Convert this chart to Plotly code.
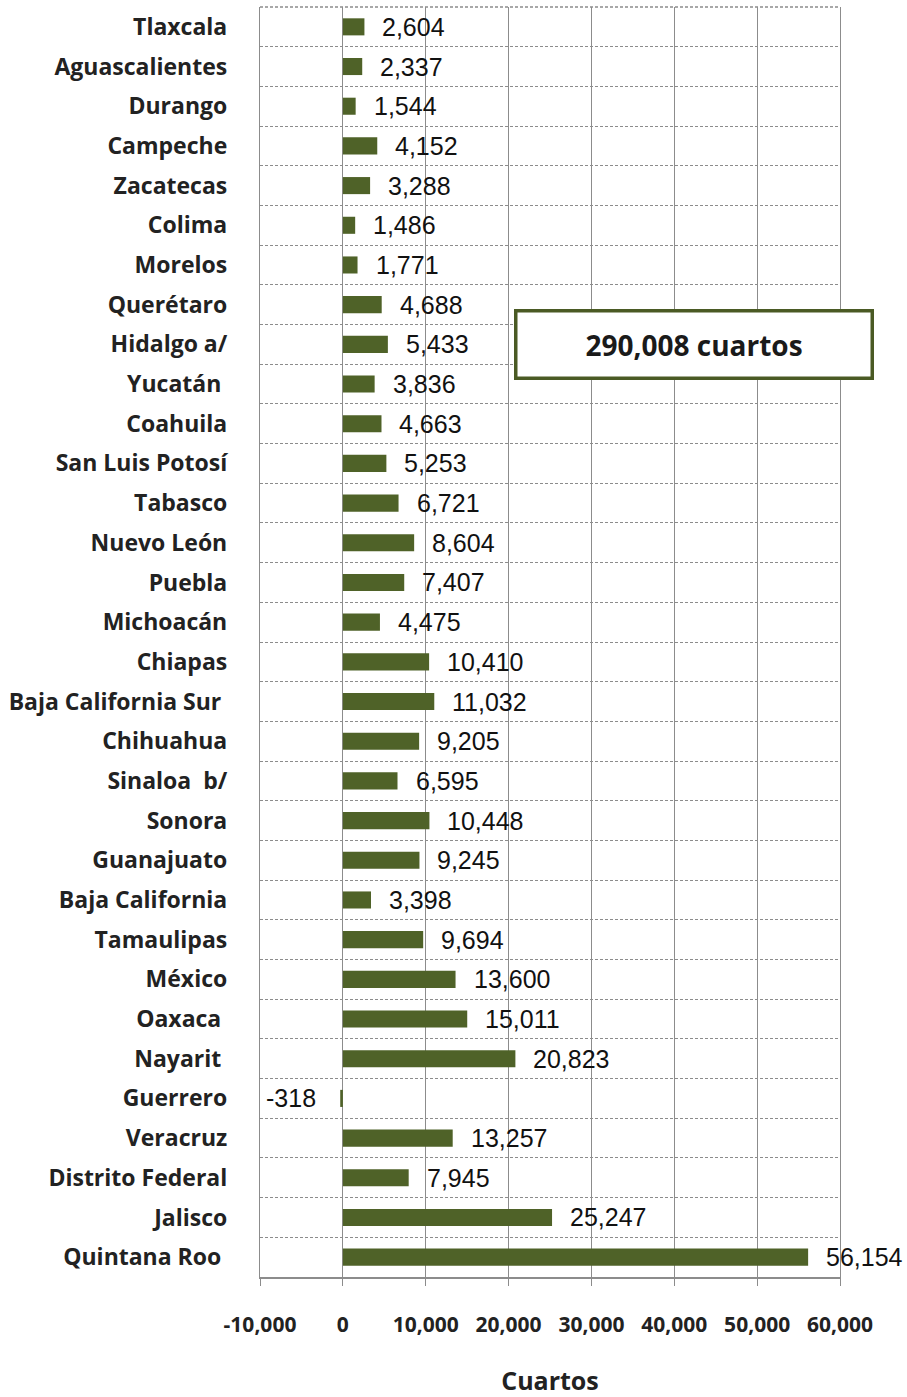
import plotly.graph_objects as go

# Change in hotel rooms by state (top to bottom as listed)
states = [
    "Tlaxcala", "Aguascalientes", "Durango", "Campeche", "Zacatecas", "Colima",
    "Morelos", "Querétaro", "Hidalgo a/", "Yucatán ", "Coahuila", "San Luis Potosí",
    "Tabasco", "Nuevo León", "Puebla", "Michoacán", "Chiapas", "Baja California Sur ",
    "Chihuahua", "Sinaloa  b/", "Sonora", "Guanajuato", "Baja California", "Tamaulipas",
    "México", "Oaxaca ", "Nayarit ", "Guerrero", "Veracruz", "Distrito Federal",
    "Jalisco", "Quintana Roo ",
]
rooms = [
    2604, 2337, 1544, 4152, 3288, 1486,
    1771, 4688, 5433, 3836, 4663, 5253,
    6721, 8604, 7407, 4475, 10410, 11032,
    9205, 6595, 10448, 9245, 3398, 9694,
    13600, 15011, 20823, -318, 13257, 7945,
    25247, 56154,
]
x_ticks = [-10000, 0, 10000, 20000, 30000, 40000, 50000, 60000]
total_label = "290,008 cuartos"

bar_color = "#4F6228"
grid_color = "#8c8c8c"
label_font = "'Open Sans', Lato, sans-serif"

fig = go.Figure()
fig.add_trace(go.Bar(
    x=rooms,
    y=states,
    orientation="h",
    width=0.43,
    marker=dict(color=bar_color, line=dict(width=0)),
    hoverinfo="x+y",
))

# Value labels next to each bar end
annotations = []
for s, v in zip(states, rooms):
    annotations.append(dict(
        x=v, y=s, xref="x", yref="y",
        text=f"{v:,}",
        showarrow=False,
        xanchor="left" if v >= 0 else "right",
        xshift=16 if v >= 0 else -22,
        font=dict(family="'Liberation Sans', Arial, sans-serif", size=25, color="#111111"),
    ))

# Total box
annotations.append(dict(
    x=42400, y="Hidalgo a/", xref="x", yref="y",
    text="<b>" + total_label + "</b>",
    showarrow=False,
    xanchor="center", yanchor="middle",
    width=351, height=62,
    bgcolor="#ffffff",
    bordercolor="#4a5a24", borderwidth=3.5,
    font=dict(family=label_font, size=28, color="#1a1a1a"),
))

fig.update_layout(
    width=907, height=1397,
    margin=dict(l=260, r=67, t=7, b=120),
    paper_bgcolor="#ffffff",
    plot_bgcolor="#ffffff",
    showlegend=False,
    annotations=annotations,
    # dashed top edge of the plot area, matching the row separators
    shapes=[dict(type="line", xref="paper", yref="paper", x0=0, x1=1, y0=1, y1=1,
                 line=dict(color=grid_color, width=1.3, dash="3px,2px"), layer="below")],
    xaxis=dict(
        range=[-10000, 60000],
        tickvals=x_ticks,
        ticktext=[f"{t:,}" for t in x_ticks],
        showgrid=True, gridcolor=grid_color, gridwidth=1.3,
        zeroline=False,
        showline=True, linecolor=grid_color, linewidth=1.6,
        ticks="outside", ticklen=7, tickcolor=grid_color,
        ticklabelstandoff=21,
        automargin=False,
        tickfont=dict(family=label_font, size=21, color="#222222", weight="bold"),
        title=dict(text="<b>Cuartos</b>", standoff=43,
                   font=dict(family=label_font, size=25, color="#222222")),
    ),
    yaxis=dict(
        type="category",
        categoryorder="array", categoryarray=states,
        autorange="reversed",
        tickson="boundaries",
        showgrid=True, gridcolor=grid_color, griddash="3px,2px", gridwidth=1.3,
        showline=True, mirror=True, linecolor=grid_color, linewidth=1.3,
        ticks="",
        ticklabelstandoff=27,
        automargin=False,
        tickfont=dict(family=label_font, size=23, color="#222222", weight="bold"),
    ),
)

fig.write_html("out.html")
